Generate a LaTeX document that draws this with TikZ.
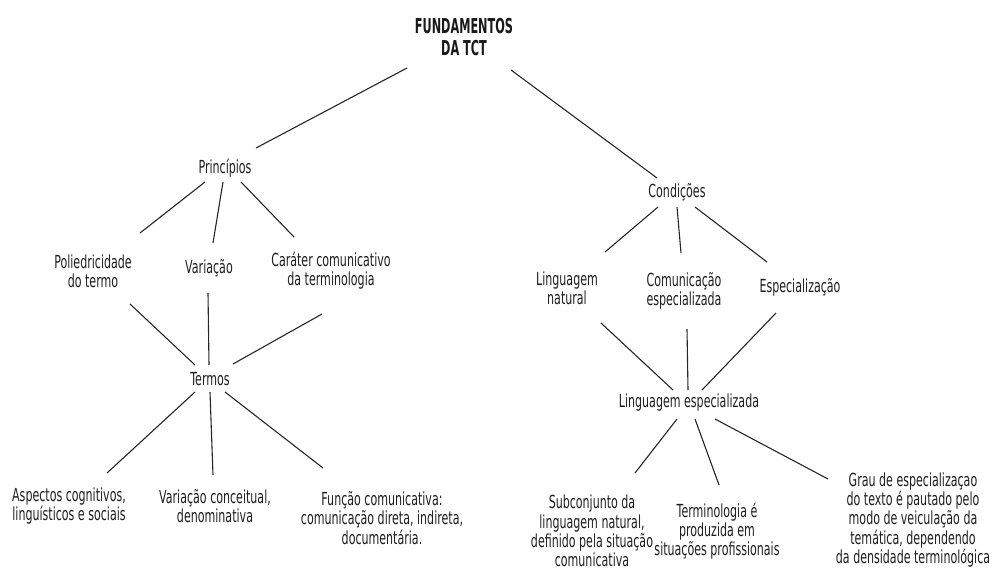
\documentclass[tikz,border=0pt]{standalone}
\usepackage{fontspec}
\setmainfont{DejaVu Sans}[FakeStretch=0.615]
\newfontfamily\titlefont{DejaVu Sans Bold}[FakeStretch=0.55]
\begin{document}
\begin{tikzpicture}[x=1pt,y=-1pt,
  lbl/.style={align=center,inner sep=0pt,text=black!88,font=\fontsize{18}{19.3}\selectfont},
  ttl/.style={align=center,inner sep=0pt,text=black!90,font=\titlefont\fontsize{20.5}{22}\selectfont},
  link/.style={draw=black!85,line width=1.1pt}]
\useasboundingbox (0,0) rectangle (992,579);

% root
\node[ttl] (root) at (464,37) {FUNDAMENTOS\\DA TCT};

% left branch
\node[lbl] (prin) at (225,168) {Princípios};
\node[lbl] (poli) at (93,271) {Poliedricidade\\do termo};
\node[lbl] (vari) at (209,268) {Variação};
\node[lbl] (cara) at (331,271) {Caráter comunicativo\\da terminologia};
\node[lbl] (termos) at (210,379) {Termos};
\node[lbl] (asp) at (69,506) {Aspectos cognitivos,\\linguísticos e sociais};
\node[lbl] (vcon) at (215,506) {Variação conceitual,\\denominativa};
\node[lbl] (func) at (382,518) {Função comunicativa:\\comunicação direta, indireta,\\documentária.};

% right branch
\node[lbl] (cond) at (677,192) {Condições};
\node[lbl] (lnat) at (567,288) {Linguagem\\natural};
\node[lbl] (come) at (684,291) {Comunicação\\especializada};
\node[lbl] (espe) at (800,287) {Especialização};
\node[lbl] (lesp) at (689,403) {Linguagem especializada};
\node[lbl] (sub) at (592,531) {Subconjunto da\\linguagem natural,\\definido pela situação\\comunicativa};
\node[lbl] (term) at (717,531) {Terminologia é\\produzida em\\situações profissionais};
\node[lbl] (grau) at (913,520) {Grau de especializaçao\\do texto é pautado pelo\\modo de veiculação da\\temática, dependendo\\da densidade terminológica};

% connectors
\draw[link] ([shift={(-57,31)}]root.center) -- ([shift={(31,-20)}]prin.center);
\draw[link] ([shift={(47,33)}]root.center) -- ([shift={(-20,-14)}]cond.center);

\draw[link] ([shift={(-20,14)}]prin.center) -- ([shift={(47,-38)}]poli.center);
\draw[link] ([shift={(-2,14)}]prin.center) -- ([shift={(4,-25)}]vari.center);
\draw[link] ([shift={(16,14)}]prin.center) -- ([shift={(-37,-34)}]cara.center);

\draw[link] ([shift={(37,33)}]poli.center) -- ([shift={(-15,-14)}]termos.center);
\draw[link] ([shift={(-1,25)}]vari.center) -- ([shift={(-1,-14)}]termos.center);
\draw[link] ([shift={(-9,43)}]cara.center) -- ([shift={(23,-15)}]termos.center);

\draw[link] ([shift={(-15,13)}]termos.center) -- ([shift={(38,-33)}]asp.center);
\draw[link] ([shift={(0,13)}]termos.center) -- ([shift={(-2,-31)}]vcon.center);
\draw[link] ([shift={(15,13)}]termos.center) -- ([shift={(-59,-50)}]func.center);

\draw[link] ([shift={(-19,15)}]cond.center) -- ([shift={(38,-36)}]lnat.center);
\draw[link] ([shift={(0,15)}]cond.center) -- ([shift={(-3,-38)}]come.center);
\draw[link] ([shift={(18,15)}]cond.center) -- ([shift={(-33,-25)}]espe.center);

\draw[link] ([shift={(34,35)}]lnat.center) -- ([shift={(-16,-13)}]lesp.center);
\draw[link] ([shift={(3,38)}]come.center) -- ([shift={(-1,-13)}]lesp.center);
\draw[link] ([shift={(-24,26)}]espe.center) -- ([shift={(13,-13)}]lesp.center);

\draw[link] ([shift={(-12,16)}]lesp.center) -- ([shift={(43,-58)}]sub.center);
\draw[link] ([shift={(6,16)}]lesp.center) -- ([shift={(2,-46)}]term.center);
\draw[link] ([shift={(26,16)}]lesp.center) -- ([shift={(-85,-41)}]grau.center);
\end{tikzpicture}
\end{document}
